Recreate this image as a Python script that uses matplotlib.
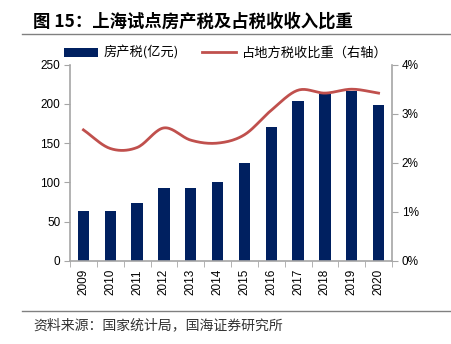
import numpy as np
import matplotlib.pyplot as plt
from matplotlib.ticker import FuncFormatter, FixedLocator

plt.rcParams['font.family'] = ['Liberation Sans', 'Noto Sans CJK SC', 'DejaVu Sans']

years = ['2009', '2010', '2011', '2012', '2013', '2014',
         '2015', '2016', '2017', '2018', '2019', '2020']
tax = [63, 63, 74, 93, 93, 100, 124, 171, 204, 213, 217, 199]
share = [2.67, 2.29, 2.31, 2.71, 2.46, 2.40, 2.57, 3.07, 3.48, 3.42, 3.50, 3.42]

BAR_COLOR = '#002060'
LINE_COLOR = '#C0504D'
GRAY = '#A6A6A6'
CJK = ['Noto Sans CJK SC', 'DejaVu Sans']


def catmull_rom(x, y, n=20):
    # smooth curve through the points, like Excel's smoothed line
    x = np.asarray(x, float)
    y = np.asarray(y, float)
    px = np.concatenate([[2 * x[0] - x[1]], x, [2 * x[-1] - x[-2]]])
    py = np.concatenate([[2 * y[0] - y[1]], y, [2 * y[-1] - y[-2]]])
    xs, ys = [], []
    t = np.linspace(0, 1, n, endpoint=False)
    for i in range(1, len(px) - 2):
        for p, out in ((px, xs), (py, ys)):
            p0, p1, p2, p3 = p[i - 1], p[i], p[i + 1], p[i + 2]
            out.extend(0.5 * (2 * p1 + (-p0 + p2) * t
                              + (2 * p0 - 5 * p1 + 4 * p2 - p3) * t ** 2
                              + (-p0 + 3 * p1 - 3 * p2 + p3) * t ** 3))
    xs.append(x[-1])
    ys.append(y[-1])
    return np.array(xs), np.array(ys)


fig = plt.figure(figsize=(4.51, 3.44), dpi=100)
ax = fig.add_axes([70 / 451, 1 - 260.7 / 344, 322 / 451, 196 / 344])
ax2 = ax.twinx()

x = np.arange(len(years))
ax.bar(x, tax, width=0.42, color=BAR_COLOR, label='房产税(亿元)', zorder=2)
sx, sy = catmull_rom(x, share)
ax2.plot(sx, sy, color=LINE_COLOR, lw=2, label='占地方税收比重（右轴）')

ax.set_xlim(-0.5, len(years) - 0.5)
ax.set_ylim(0, 250)
ax.set_yticks(range(0, 251, 50))
ax2.set_ylim(0, 4)
ax2.set_yticks(range(0, 5))
ax2.yaxis.set_major_formatter(FuncFormatter(lambda v, p: f'{v:.0f}%'))

ax.set_xticks(x)
ax.set_xticklabels(years, rotation=90, fontsize=8.5)
ax.xaxis.set_minor_locator(FixedLocator(np.arange(-0.5, len(years), 1)))
ax.tick_params(axis='x', which='major', length=0, pad=6)
ax.tick_params(axis='x', which='minor', length=4, color=GRAY, direction='out')
ax.tick_params(axis='y', length=4, color=GRAY, labelsize=8.5, pad=3)
ax2.tick_params(axis='y', length=4, color=GRAY, labelsize=8.5, pad=3)

for a in (ax, ax2):
    a.spines['top'].set_visible(False)
    for s in ('left', 'right', 'bottom'):
        a.spines[s].set_color(GRAY)
        a.spines[s].set_linewidth(1.2)
ax.spines['right'].set_visible(False)
ax2.spines['left'].set_visible(False)
ax2.spines['bottom'].set_visible(False)

h1, l1 = ax.get_legend_handles_labels()
h2, l2 = ax2.get_legend_handles_labels()
fig.legend(h1 + h2, l1 + l2, loc='center', bbox_to_anchor=(0.5, 1 - 53 / 344),
           ncol=2, frameon=False, prop={'family': CJK, 'size': 9.5},
           handlelength=2.6, columnspacing=1.8, handletextpad=0.4)

fig.text(33 / 451, 1 - 22 / 344, '图 15：上海试点房产税及占税收收入比重',
         family=CJK, fontsize=12.5, fontweight='bold', va='center')
fig.add_artist(plt.Line2D([22 / 451, 1], [1 - 34 / 344] * 2, color='#808080', lw=1))
fig.add_artist(plt.Line2D([22 / 451, 1], [1 - 311 / 344] * 2, color='#808080', lw=1))
fig.text(33 / 451, 1 - 325 / 344, '资料来源：国家统计局，国海证券研究所',
         family=CJK, fontsize=10, va='center', color='#333333')

fig.savefig('out.png', dpi=100)
